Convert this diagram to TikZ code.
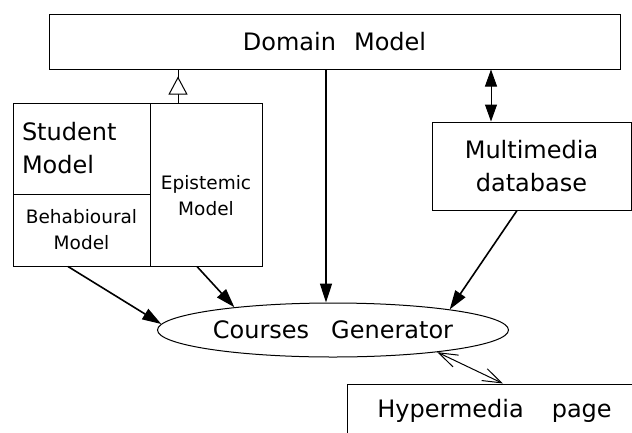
\documentclass[tikz,border=0pt]{standalone}
\usepackage{fontspec}
\setmainfont{DejaVu Sans}
\usetikzlibrary{arrows.meta,positioning,shapes.geometric}
\newcommand\bigtext{\fontsize{24}{33}\selectfont}
\newcommand\smalltext{\fontsize{18.5}{26}\selectfont}

\begin{document}
\begin{tikzpicture}[x=1pt,y=-1pt,line width=1pt]%
\clip (0,0) rectangle (632,432);%
\tikzstyle{box}=[draw,rectangle,inner sep=0pt,align=center] %%
\tikzstyle{fat}=[line width=1.6pt,-{Triangle[length=19pt,width=12pt]}] %%
\tikzstyle{headtip}=[{Triangle[length=17pt,width=12pt]}-{Triangle[length=17pt,width=12pt]}] %%
\tikzstyle{barbtip}=[{Straight Barb[length=19pt,width=13pt]}-{Straight Barb[length=19pt,width=13pt]}] %%
\begin{scope}[every node/.style={box,font=\bigtext}]%
\node[minimum width=571pt,minimum height=55pt] (dom) at (334.5,41.5) {Domain\hspace{18pt}Model}; %%
\node[minimum width=199pt,minimum height=88pt] (mm) at (531.5,166) {Multimedia\\database}; %%
\node[minimum width=295pt,minimum height=54pt] (hyp) at (494.5,411) {Hypermedia\hspace{28pt}page}; %%
\node[minimum width=137pt,minimum height=91pt,text width=119pt,align=left] (stm) at (81.5,148.5) {Student\\Model}; %%
\end{scope}
\begin{scope}[every node/.style={box,font=\smalltext}]%
\node[minimum width=137pt,minimum height=72pt] (beh) at (81.5,230) {Behabioural\\Model}; %%
\node[minimum width=112pt,minimum height=163pt] (epi) at (206,184.5) {}; %%
\end{scope}
\node[font=\smalltext,align=center] (epitxt) at (206,196) {Epistemic\\Model}; %%
\node[ellipse,draw,minimum width=351pt,minimum height=54pt,inner sep=0pt,font=\bigtext] (gen) at (333,330) {Courses\hspace{22pt}Generator}; %%
% inheritance towards the domain model
\coordinate (inh) at ([xshift=-28pt]epi.north);
\draw (inh) -- (inh |- dom.south);
\draw[-{Triangle[length=18pt,width=19pt,fill=white]},shorten >=7pt] (inh) -- (inh |- dom.south);
% links
\coordinate (mmtop) at ([xshift=-40.5pt]mm.north);
\draw[headtip] (mmtop |- dom.south) -- (mmtop); %%
\draw[fat] ([xshift=-8.5pt]dom.south) -- ([xshift=-7pt]gen.north); %%
\draw[fat] ([xshift=-14.5pt]mm.south) -- (gen.10); %%
\draw[fat] ([xshift=-13.5pt]beh.south) -- (gen.178); %%
\draw[fat] ([xshift=-9pt]epi.south) -- (gen.167); %%
\draw[barbtip] (gen.348) -- ([xshift=8.5pt]hyp.north); %%
\end{tikzpicture}
\end{document}
